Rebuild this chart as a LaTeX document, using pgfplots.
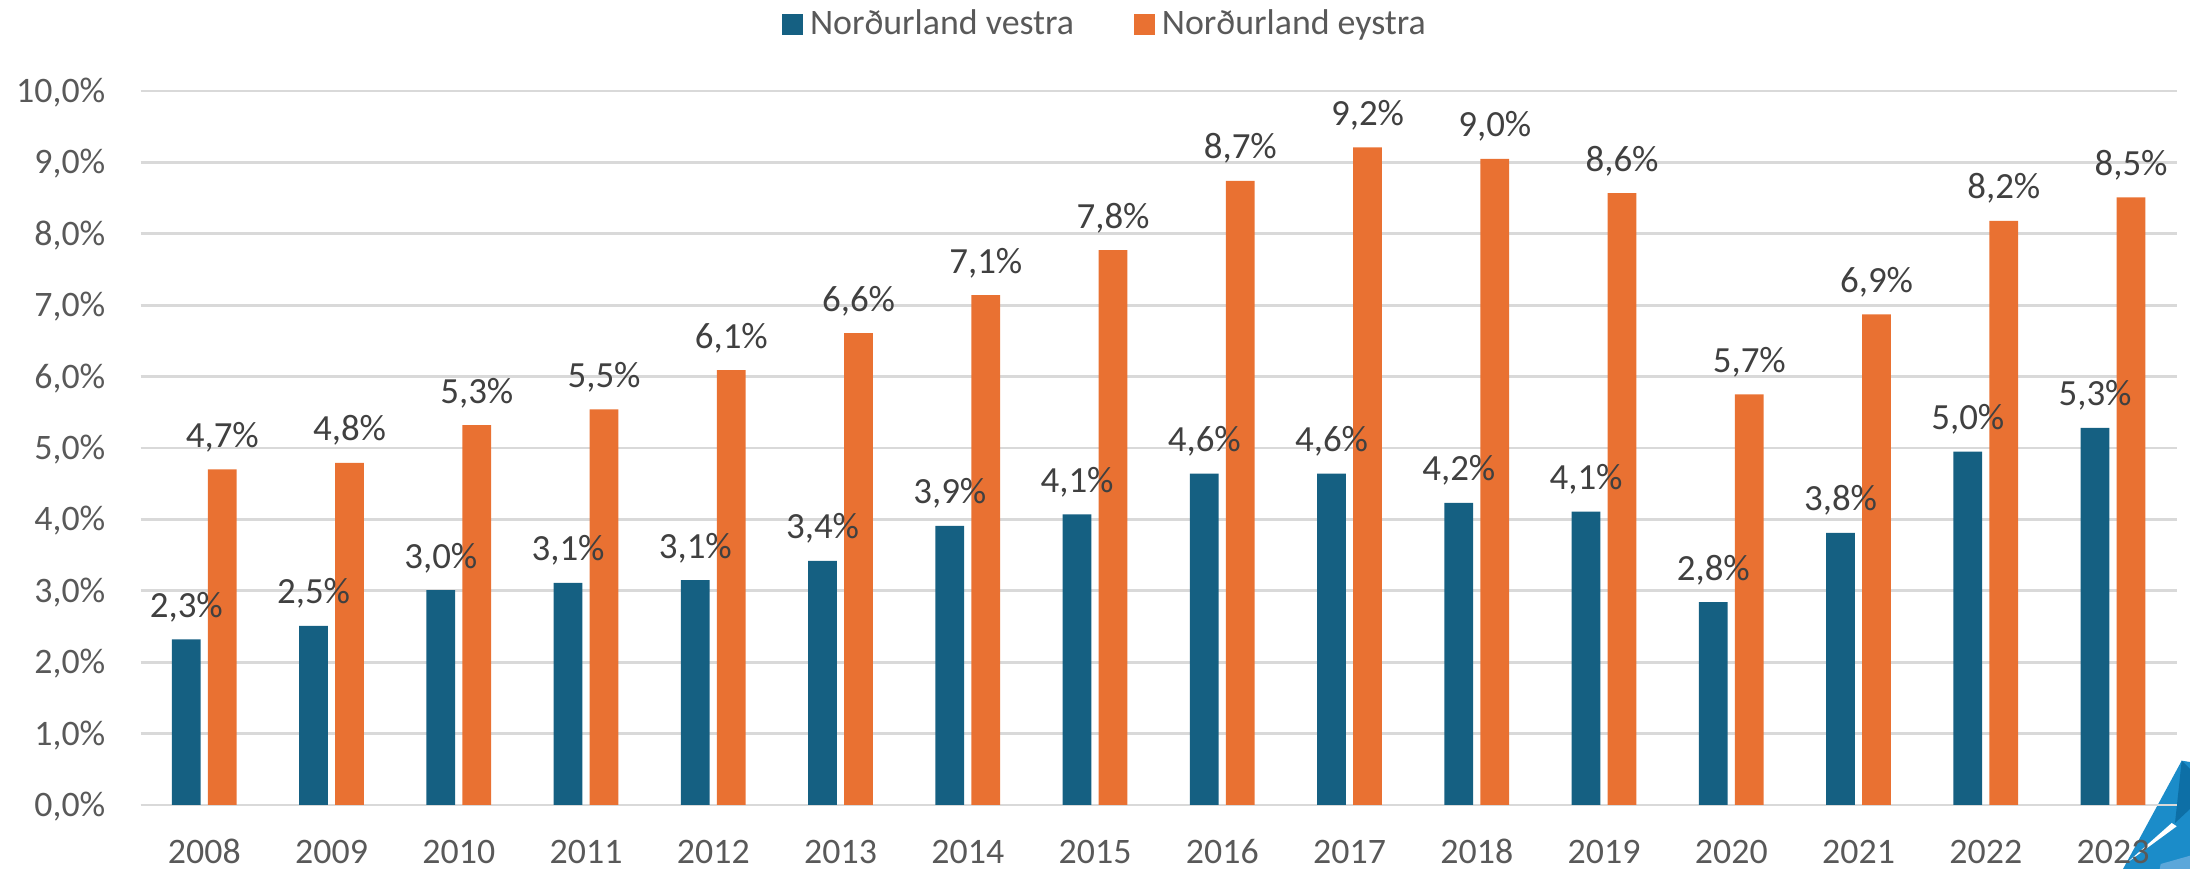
\documentclass[border=0pt]{standalone}
\usepackage{fontspec}
\setmainfont{Carlito}
\usepackage{pgfplots}
\pgfplotsset{compat=1.18}
\usepackage{pgfplotstable}
\definecolor{cblue}{HTML}{156082}
\definecolor{corange}{HTML}{E97132}
\definecolor{cgrid}{HTML}{D9D9D9}
\definecolor{ctext}{HTML}{595959}
\definecolor{clabel}{HTML}{404040}
\definecolor{logoA}{HTML}{1B8CC9}
\definecolor{logoB}{HTML}{0D6FA6}
\definecolor{logoC}{HTML}{5BA7DA}

\pgfplotstableread{
x v lab
0 2.32 2,3
1 2.51 2,5
2 3.01 3,0
3 3.11 3,1
4 3.15 3,1
5 3.42 3,4
6 3.91 3,9
7 4.07 4,1
8 4.64 4,6
9 4.64 4,6
10 4.23 4,2
11 4.11 4,1
12 2.84 2,8
13 3.81 3,8
14 4.95 5,0
15 5.28 5,3
}\vestra

\pgfplotstableread{
x v lab
0 4.70 4,7
1 4.79 4,8
2 5.32 5,3
3 5.54 5,5
4 6.09 6,1
5 6.61 6,6
6 7.14 7,1
7 7.77 7,8
8 8.74 8,7
9 9.21 9,2
10 9.05 9,0
11 8.57 8,6
12 5.75 5,7
13 6.87 6,9
14 8.18 8,2
15 8.51 8,5
}\eystra

\begin{document}
\begin{tikzpicture}
\useasboundingbox (-14.07mm,-6.4mm) rectangle (204.93mm,80.5mm);
% logo
\fill[logoA] (204.1mm,4.43mm) -- (204.93mm,4.3mm) -- (204.93mm,-6.4mm) -- (198.23mm,-6.4mm) -- cycle;
\fill[logoB] (204.1mm,4.43mm) -- (204.93mm,3.6mm) -- (204.93mm,-0.4mm) -- (203.43mm,-1.8mm) -- cycle;
\fill[white] (203.1mm,-1.8mm) -- (203.6mm,-2.13mm) -- (198.6mm,-5.8mm) -- cycle;
\fill[logoC] (201.9mm,-6.4mm) -- (202.0mm,-5.9mm) -- (204.93mm,-5.07mm) -- (204.93mm,-6.4mm) -- cycle;
\begin{axis}[
  scale only axis,
  width=203.6mm, height=71.4mm,
  xmin=-0.5, xmax=15.5, ymin=0, ymax=10,
  ybar, bar width=2.87mm,
  clip=false,
  xtick={0,...,15},
  xticklabels={2008,2009,2010,2011,2012,2013,2014,2015,2016,2017,2018,2019,2020,2021,2022,2023},
  ytick={0,1,...,10},
  yticklabels={{0,0\%},{1,0\%},{2,0\%},{3,0\%},{4,0\%},{5,0\%},{6,0\%},{7,0\%},{8,0\%},{9,0\%},{10,0\%}},
  ymajorgrids,
  major grid style={cgrid, line width=0.8pt},
  axis line style={draw=none},
  major tick length=0pt,
  tick label style={font=\fontsize{10.2}{12}\selectfont, text=ctext},
  yticklabel style={anchor=base east, inner sep=0pt, xshift=-3.47mm, yshift=-1.15mm},
  xticklabel style={anchor=base, inner sep=0pt, yshift=-5.9mm},
  point meta=explicit symbolic,
  nodes near coords={\pgfplotspointmeta\%},
  every node near coord/.append style={font=\fontsize{10.5}{12}\selectfont, text=clabel, anchor=base, inner sep=0pt, yshift=2.2mm},
  legend style={at={(0.4749,1.0934)}, anchor=center, draw=none, fill=none,
    font=\fontsize{10.2}{12}\selectfont, text=ctext,
    /tikz/every even column/.append style={column sep=5.3mm}},
  legend columns=2,
  legend image code/.code={\fill[#1] (0mm,-1.035mm) rectangle (2.07mm,1.035mm);},
]
\addplot[fill=cblue, draw=none, bar shift=-1.8mm] table[x=x, y=v, meta=lab] {\vestra};
\addplot[fill=corange, draw=none, bar shift=1.8mm] table[x=x, y=v, meta=lab] {\eystra};
\legend{Norðurland vestra, Norðurland eystra}
\end{axis}
\end{tikzpicture}
\end{document}
